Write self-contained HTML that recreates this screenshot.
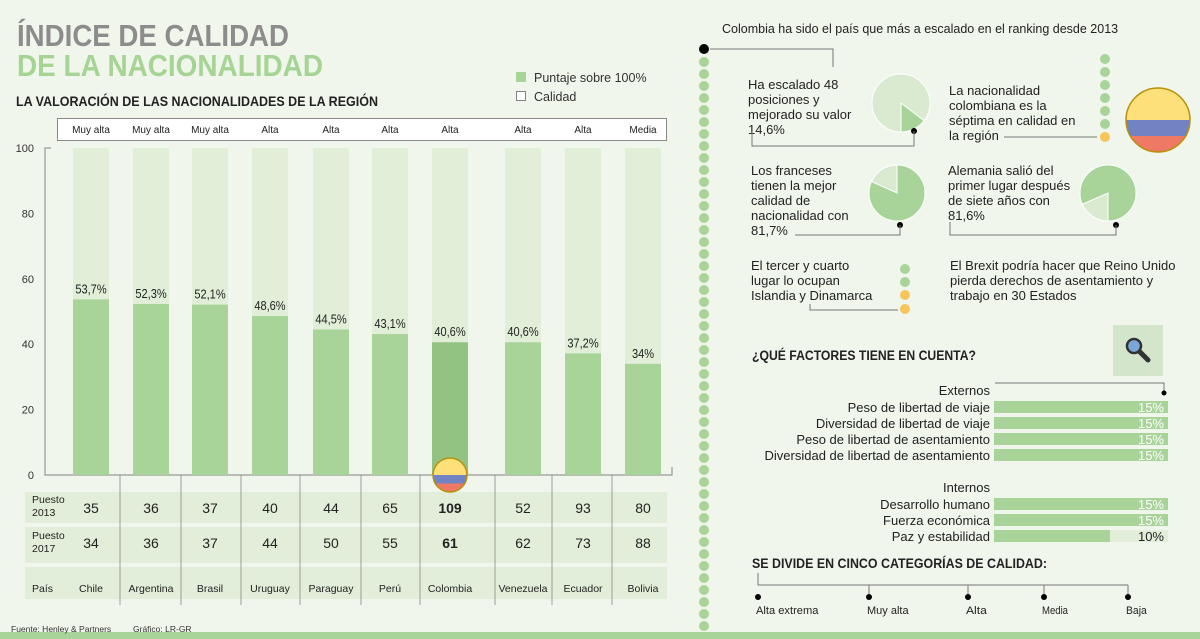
<!DOCTYPE html>
<html><head><meta charset="utf-8"><style>
html,body{margin:0;padding:0;background:#f0f6ec;}
svg{display:block;font-family:"Liberation Sans",sans-serif;}
</style></head><body>
<svg id="s" width="1200" height="639" viewBox="0 0 1200 639" xmlns="http://www.w3.org/2000/svg">
<rect width="1200" height="639" fill="#f0f6ec"/>
<rect x="0" y="632" width="1200" height="7" fill="#a8d49a"/>
<text x="17" y="46" font-size="31" font-weight="bold" fill="#8c8c8c" textLength="272" lengthAdjust="spacingAndGlyphs">ÍNDICE DE CALIDAD</text>
<text x="17" y="76" font-size="31" font-weight="bold" fill="#a5d494" textLength="306" lengthAdjust="spacingAndGlyphs">DE LA NACIONALIDAD</text>
<text x="16" y="106" font-size="14" font-weight="bold" fill="#222" textLength="362" lengthAdjust="spacingAndGlyphs">LA VALORACIÓN DE LAS NACIONALIDADES DE LA REGIÓN</text>
<rect x="516" y="72" width="10" height="10" fill="#a8d49a"/>
<text x="534" y="82" font-size="12.5" fill="#333">Puntaje sobre 100%</text>
<rect x="516.5" y="91.5" width="9" height="9" fill="#fff" stroke="#666" stroke-width="0.8"/>
<text x="534" y="101" font-size="12.5" fill="#333">Calidad</text>
<rect x="57.5" y="118.5" width="609" height="22" fill="#fff" stroke="#888"/>
<g id="chart"></g>
<g id="right"></g>
<text x="11" y="632" font-size="8.5" fill="#333">Fuente: Henley &amp; Partners</text>
<text x="133" y="632" font-size="8.5" fill="#333">Gráfico: LR-GR</text>
</svg>
<script>
const countries=["Chile","Argentina","Brasil","Uruguay","Paraguay","Perú","Colombia","Venezuela","Ecuador","Bolivia"];
const scores=[53.7,52.3,52.1,48.6,44.5,43.1,40.6,40.6,37.2,34];
const qualities=["Muy alta","Muy alta","Muy alta","Alta","Alta","Alta","Alta","Alta","Alta","Media"];
const rank2013=[35,36,37,40,44,65,109,52,93,80];
const rank2017=[34,36,37,44,50,55,61,62,73,88];
const yTicks=[0,20,40,60,80,100];
const factorNames=["Peso de libertad de viaje","Diversidad de libertad de viaje","Peso de libertad de asentamiento","Diversidad de libertad de asentamiento","Desarrollo humano","Fuerza económica","Paz y estabilidad"];
const factorValues=[15,15,15,15,15,15,10];
const pieValues=[14.6,81.7,81.6];
const categories=["Alta extrema","Muy alta","Alta","Media","Baja"];

const NS="http://www.w3.org/2000/svg";
function mk(p,t,a,txt){const e=document.createElementNS(NS,t);for(const k in a)e.setAttribute(k,a[k]);if(txt!==undefined)e.textContent=txt;p.appendChild(e);return e;}
const g=document.getElementById('chart');
const y0=475,y100=148;
const yS=v=>y0-(y0-y100)*v/100;
const colCenters=[91,151,210,270,331,390,450,523,583,643];
const xS=i=>colCenters[i];
const bw=36;
let ax=mk(g,'path',{d:`M51 ${y100} H45 V${y0} H672 V${y0-8}`,fill:'none',stroke:'#999','stroke-width':1.2});


yTicks.forEach(t=>{
 const e=mk(g,'text',{x:34,y:yS(t)+4,'font-size':11,'text-anchor':'end',fill:'#333'},t);
 
 
});
[[492,31],[527,36],[567,32]].forEach(r=>{
 const e=mk(g,'rect',{x:25,y:r[0],width:642,height:r[1],fill:'#e2eed9'});
 
 
});
[120,181,241,300,361,420,495,552,612].forEach(x=>{
 const e=mk(g,'line',{x1:x,y1:y0,x2:x,y2:605,stroke:'#888','stroke-width':0.8});
 
 
});
[["Puesto",503,"2013",516],["Puesto",539,"2017",552]].forEach(r=>{
 let e=mk(g,'text',{x:32,y:r[1],'font-size':10.5,fill:'#222'},r[0]);
 
 
 e=mk(g,'text',{x:32,y:r[3],'font-size':10.5,fill:'#222'},r[2]);
 
 
});
let pl=mk(g,'text',{x:32,y:592,'font-size':10.5,fill:'#222'},"País");


countries.forEach((c,i)=>{
 const x=xS(i);
 let e=mk(g,'rect',{x:x-bw/2,y:y100,width:bw,height:y0-y100,fill:'#e1efd9'});
 
 
 e=mk(g,'rect',{x:x-bw/2,y:yS(scores[i]),width:bw,height:y0-yS(scores[i]),fill:c==="Colombia"?'#93c382':'#a8d49a'});
 
 
 e=mk(g,'text',{x:x,y:yS(scores[i])-6,'font-size':13,'text-anchor':'middle',fill:'#222',transform:`translate(${x},0) scale(0.85,1) translate(${-x},0)`},String(scores[i]).replace('.',',')+'%');
 
 
 e=mk(g,'text',{x:x,y:133,'font-size':10,'text-anchor':'middle',fill:'#222'},qualities[i]);
 
 
 const b=c==="Colombia"?'bold':'normal';
 e=mk(g,'text',{x:x,y:513,'font-size':14,'text-anchor':'middle',fill:'#222','font-weight':b},rank2013[i]);
 
 
 e=mk(g,'text',{x:x,y:548,'font-size':14,'text-anchor':'middle',fill:'#222','font-weight':b},rank2017[i]);
 
 
 e=mk(g,'text',{x:x,y:592,'font-size':10.5,'text-anchor':'middle',fill:'#222'},c);
 
 
});
function flag(p,cx,cy,r,name){
 const id='c'+name;
 const gg=mk(p,'g',{});
 
 
 const d=mk(gg,'defs',{});const cp=mk(d,'clipPath',{id:id});mk(cp,'circle',{cx:cx,cy:cy,r:r});
 mk(gg,'rect',{x:cx-r,y:cy-r,width:2*r,height:r,fill:'#fde07a','clip-path':`url(#${id})`});
 mk(gg,'rect',{x:cx-r,y:cy,width:2*r,height:r*0.5,fill:'#7283c3','clip-path':`url(#${id})`});
 mk(gg,'rect',{x:cx-r,y:cy+r*0.5,width:2*r,height:r*0.5,fill:'#ee7a66','clip-path':`url(#${id})`});
 mk(gg,'circle',{cx:cx,cy:cy,r:r,fill:'none',stroke:'#b8900a','stroke-width':1.5});
}
flag(g,450,475,17,'colombia-flag-marker');

const R=document.getElementById('right');
function T(x,y,s,name,opt){const e=mk(R,'text',Object.assign({x:x,y:y,'font-size':13,fill:'#222'},opt||{}),s);return e;}
function lines(x,y,arr,name,lh){arr.forEach((s,i)=>T(x,y+i*(lh||15),s,name));}
function L(d,name){const e=mk(R,'path',{d:d,fill:'none',stroke:'#777','stroke-width':1});}
function dot(x,y,r,c,name){const e=mk(R,'circle',{cx:x,cy:y,r:r,fill:c});}
T(722,33,"Colombia ha sido el país que más a escalado en el ranking desde 2013",'top-note',{'font-size':12.5});
for(let y=62;y<=630;y+=12)dot(704,y,5,'#a8d49a','timeline-dot');
dot(704,49,5,'#000','timeline-start');
L('M710 49 H833 V67','connector');
lines(748,89,["Ha escalado 48","posiciones y","mejorado su valor","14,6%"],'note-colombia');
function pie(cx,cy,r,v,start,dir,name,darkIsValue){
 const gg=mk(R,'g',{});
 mk(gg,'circle',{cx:cx,cy:cy,r:r,fill:darkIsValue?'#d9ead0':'#a8d49a',stroke:'#fff','stroke-width':1});
 const frac=darkIsValue?v/100:1-v/100;
 const a0=start*Math.PI/180,a1=(start+dir*frac*360)*Math.PI/180;
 const p=(a)=>[cx+r*Math.sin(a),cy-r*Math.cos(a)];
 const [x0,y0]=p(a0),[x1,y1]=p(a1);
 const large=frac>0.5?1:0;const sw=dir>0?1:0;
 mk(gg,'path',{d:`M${cx} ${cy} L${x0} ${y0} A${r} ${r} 0 ${large} ${sw} ${x1} ${y1} Z`,fill:darkIsValue?'#a8d49a':'#d9ead0',stroke:'#fff','stroke-width':1});
}
pie(901,103,29,pieValues[0],180,-1,'pie-colombia',true);
dot(914,131,3,'#000','pie-dot');L('M914 131 V146 H752 V132','connector');
lines(949,95,["La nacionalidad","colombiana es la","séptima en calidad en","la región"],'note-seventh');
for(let i=0;i<6;i++)dot(1105,59+i*13,5,'#a8d49a','side-dot');
dot(1105,137,5,'#f7c55a','side-dot-orange');
L('M1004 137 H1097','connector');
flag(R,1158,120,32,'colombia-flag');
pie(897,193,28,pieValues[1],0,-1,'pie-france',false);
dot(900,225,3,'#000','pie-dot');L('M900 225 V235 H795','connector');
lines(751,175,["Los franceses","tienen la mejor","calidad de","nacionalidad con","81,7%"],'note-france');
pie(1108,193,28,pieValues[2],180,1,'pie-germany',false);
dot(1116,225,3,'#000','pie-dot');L('M1116 225 V235 H950 V222','connector');
lines(948,175,["Alemania salió del","primer lugar después","de siete años con","81,6%"],'note-germany');
lines(751,270,["El tercer y cuarto","lugar lo ocupan","Islandia y Dinamarca"],'note-iceland');
[[269,'#a8d49a'],[282,'#a8d49a'],[295,'#f7c55a'],[309,'#f7c55a']].forEach(d=>dot(905,d[0],5,d[1],'side-dot'));
L('M810 304 V310 H898','connector');
lines(950,270,["El Brexit podría hacer que Reino Unido","pierda derechos de asentamiento y","trabajo en 30 Estados"],'note-brexit');
let mb=mk(R,'rect',{x:1113,y:325,width:50,height:51,fill:'#d3e6cb'});

const mg=mk(R,'g',{});
mk(mg,'line',{x1:1140,y1:352,x2:1148,y2:360,stroke:'#333','stroke-width':5,'stroke-linecap':'round'});
mk(mg,'circle',{cx:1134,cy:346,r:7,fill:'#7aa7d8',stroke:'#333','stroke-width':2.5});
T(752,360,"¿QUÉ FACTORES TIENE EN CUENTA?",'factors-title',{'font-size':13.5,'font-weight':'bold',textLength:224,lengthAdjust:'spacingAndGlyphs'});
T(990,395,"Externos",'group-label',{'text-anchor':'end'});
L('M995 383 H1164 V392','connector');dot(1164,393,2.5,'#000','connector-dot');
T(990,492,"Internos",'group-label',{'text-anchor':'end'});
const fy=[401,417,433,449,498,514,530];
const bx0=994,bwFull=174,maxV=15;
factorNames.forEach((n,i)=>{
 const y=fy[i];
 T(990,y+11,n,'factor-label',{'text-anchor':'end'});
 let e=mk(R,'rect',{x:bx0,y:y,width:bwFull,height:12,fill:'#e2eed9'});
 
 const w=bwFull*factorValues[i]/maxV;
 e=mk(R,'rect',{x:bx0,y:y,width:w,height:12,fill:'#a8d49a'});
 
 T(1164,y+11,factorValues[i]+'%','factor-value',{'text-anchor':'end',fill:factorValues[i]>=maxV?'#fff':'#222','font-size':13});
});
T(752,568,"SE DIVIDE EN CINCO CATEGORÍAS DE CALIDAD:",'categories-title',{'font-size':13.5,'font-weight':'bold',textLength:295,lengthAdjust:'spacingAndGlyphs'});
const cx=[758,869,968,1044,1128];
L('M758 573 V585 H1128','category-line');
categories.forEach((c,i)=>{
 if(i>0)L(`M${cx[i]} 585 V595`,'category-tick');
 dot(cx[i],597,3,'#000','category-dot');
 T(cx[i]-2,614,c,'category-label',{'font-size':11,textLength:c.length*5.2,lengthAdjust:'spacingAndGlyphs'});
});
</script>
</body></html>
